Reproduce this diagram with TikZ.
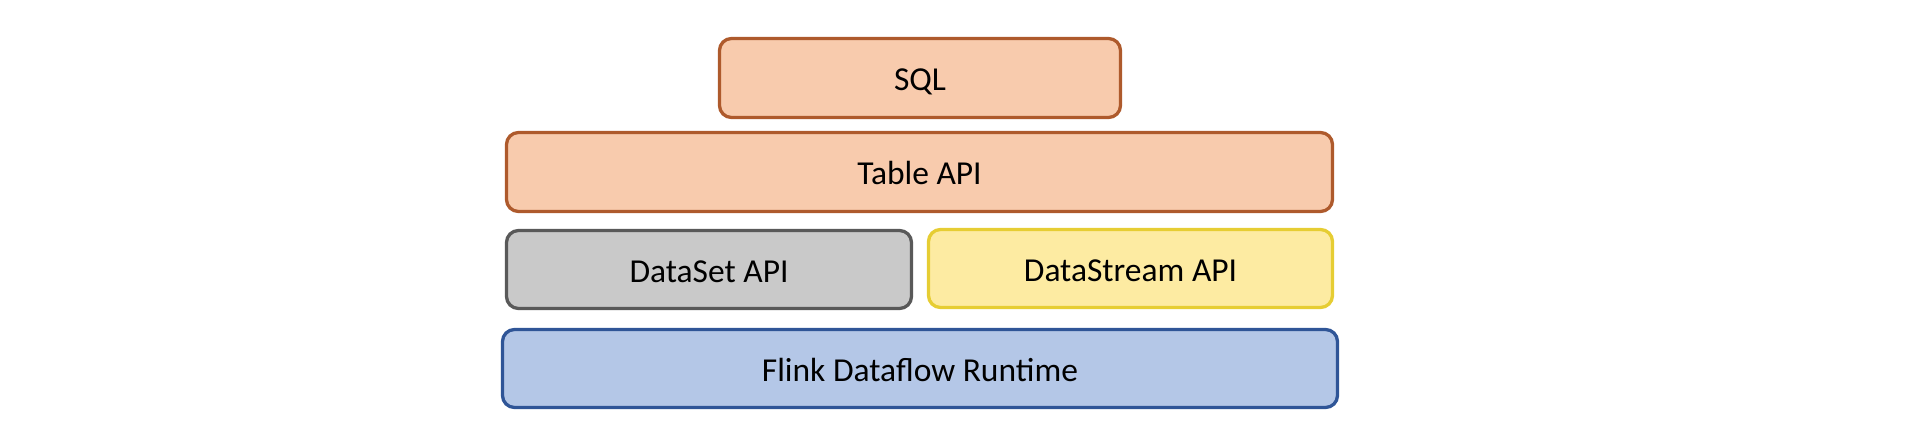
\documentclass[tikz,border=0pt]{standalone}
\usepackage{fontspec}
\setmainfont{Carlito}
\definecolor{orfill}{HTML}{F8CBAD}
\definecolor{ordraw}{HTML}{AE5A2C}
\definecolor{grfill}{HTML}{C9C9C9}
\definecolor{grdraw}{HTML}{595959}
\definecolor{yefill}{HTML}{FDEBA2}
\definecolor{yedraw}{HTML}{E6CD33}
\definecolor{blfill}{HTML}{B4C7E7}
\definecolor{bldraw}{HTML}{2F5597}
\tikzset{
  layer/.style={rectangle, rounded corners=12pt, line width=3.3pt, inner sep=0pt,
    minimum height=79pt, text height=25.5pt, text depth=0pt,
    font=\fontsize{33.5}{40}\selectfont},
  orangebox/.style={layer, fill=orfill, draw=ordraw},
  graybox/.style={layer, fill=grfill, draw=grdraw},
  yellowbox/.style={layer, fill=yefill, draw=yedraw},
  bluebox/.style={layer, fill=blfill, draw=bldraw},
}
\begin{document}
\begin{tikzpicture}[x=1pt,y=-1pt]
\useasboundingbox (0,0) rectangle (1918,446);
\node[orangebox, minimum width=401pt] (sql) at (920,78) {SQL};
\node[orangebox, minimum width=826pt] (table) at (919.5,172) {Table API};
\node[graybox, minimum width=405pt, minimum height=78pt] (dataset) at (709,269.5) {DataSet API};
\node[yellowbox, minimum width=404pt, minimum height=78pt] (datastream) at (1130.5,268.5) {DataStream API};
\node[bluebox, minimum width=835pt, minimum height=78pt] (runtime) at (920,368.5) {Flink Dataflow Runtime};
\end{tikzpicture}
\end{document}
